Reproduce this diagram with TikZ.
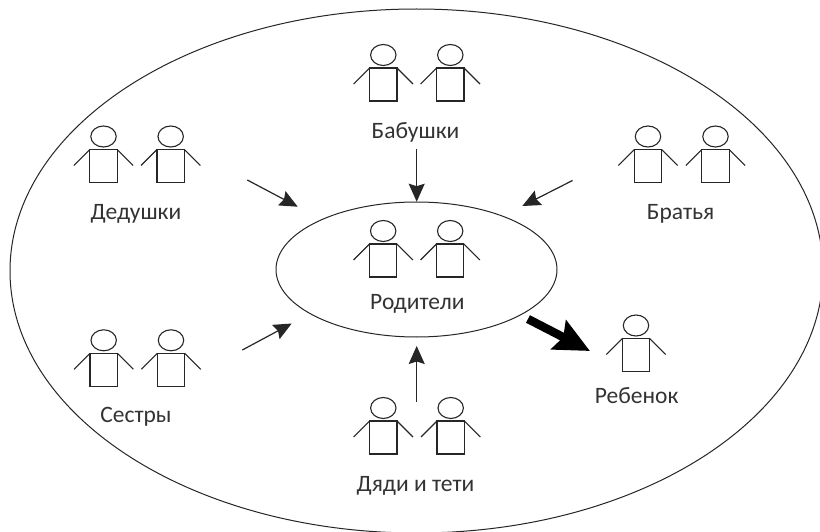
\documentclass[tikz,border=0pt]{standalone}
\usepackage{fontspec}
\setmainfont{Carlito}
\usetikzlibrary{arrows.meta}
\tikzset{
  x=1pt,y=-1pt,
  ink/.style={draw=black!85,line width=1.1pt},
  oval/.style={draw=black!85,line width=1pt},
  lab/.style={font=\fontsize{23.5}{26}\selectfont,text=black!80,inner sep=0pt,anchor=base},
  thin arrow/.style={draw=black!85,line width=1.2pt,-{Stealth[length=18pt,width=16pt,inset=2.5pt]}},
  fat arrow/.style={draw=black,line width=8.5pt,-{Stealth[length=35pt,width=32pt,inset=5pt]}},
  person/.pic={
    \draw[ink] (-13.7,0) rectangle (13.7,33);
    \draw[ink] (0,-13) ellipse [x radius=12.7,y radius=10.5];
    \draw[ink] (-13.7,0) -- (-29.7,16);
    \draw[ink] (13.7,0) -- (29.7,16);
  }
}
\begin{document}
\begin{tikzpicture}
\useasboundingbox (0,0) rectangle (820,532);
\fill[white] (0,0) rectangle (820,532);
\begin{scope}
\clip (0,0) rectangle (820,532);
\draw[oval] (416.5,271) ellipse [x radius=406.5,y radius=262];
\end{scope}
\draw[oval] (416.5,269.5) ellipse [x radius=140.5,y radius=67.5];
\pic at (383.3,68) {person};
\pic at (450.3,68) {person};
\pic at (103.5,149.5) {person};
\pic at (170.7,149.5) {person};
\pic at (648,149.5) {person};
\pic at (715.5,149.5) {person};
\pic at (383.2,244) {person};
\pic at (450.2,244) {person};
\pic at (103.7,353.3) {person};
\pic at (171,353.3) {person};
\pic at (383.3,421) {person};
\pic at (450.7,421) {person};
\pic at (636,338.5) {person};
\node[lab] (babushki) at (415.5,139) {Бабушки};
\node[lab] (dedushki) at (136,219.5) {Дедушки};
\node[lab] (bratya) at (680.6,219.5) {Братья};
\node[lab] (roditeli) at (417.3,309) {Родители};
\node[lab] (sestry) at (136,422.5) {Сестры};
\node[lab] (dyadi) at (415.5,491) {Дяди и тети};
\node[lab] (rebenok) at (636.7,403) {Ребенок};
\coordinate (a1s) at (416.7,149); \coordinate (a1e) at (416.7,201.7);
\coordinate (a2s) at (247.3,180); \coordinate (a2e) at (297.7,206.7);
\coordinate (a3s) at (572.5,180.5); \coordinate (a3e) at (522.3,206);
\coordinate (a4s) at (242.3,350); \coordinate (a4e) at (291.7,323.5);
\coordinate (a5s) at (416.7,401.7); \coordinate (a5e) at (416.7,346);
\coordinate (a6s) at (528,319); \coordinate (a6e) at (590,351);
\draw[thin arrow] (a1s) -- (a1e);
\draw[thin arrow] (a2s) -- (a2e);
\draw[thin arrow] (a3s) -- (a3e);
\draw[thin arrow] (a4s) -- (a4e);
\draw[thin arrow] (a5s) -- (a5e);
\draw[fat arrow] (a6s) -- (a6e);
\end{tikzpicture}
\end{document}
